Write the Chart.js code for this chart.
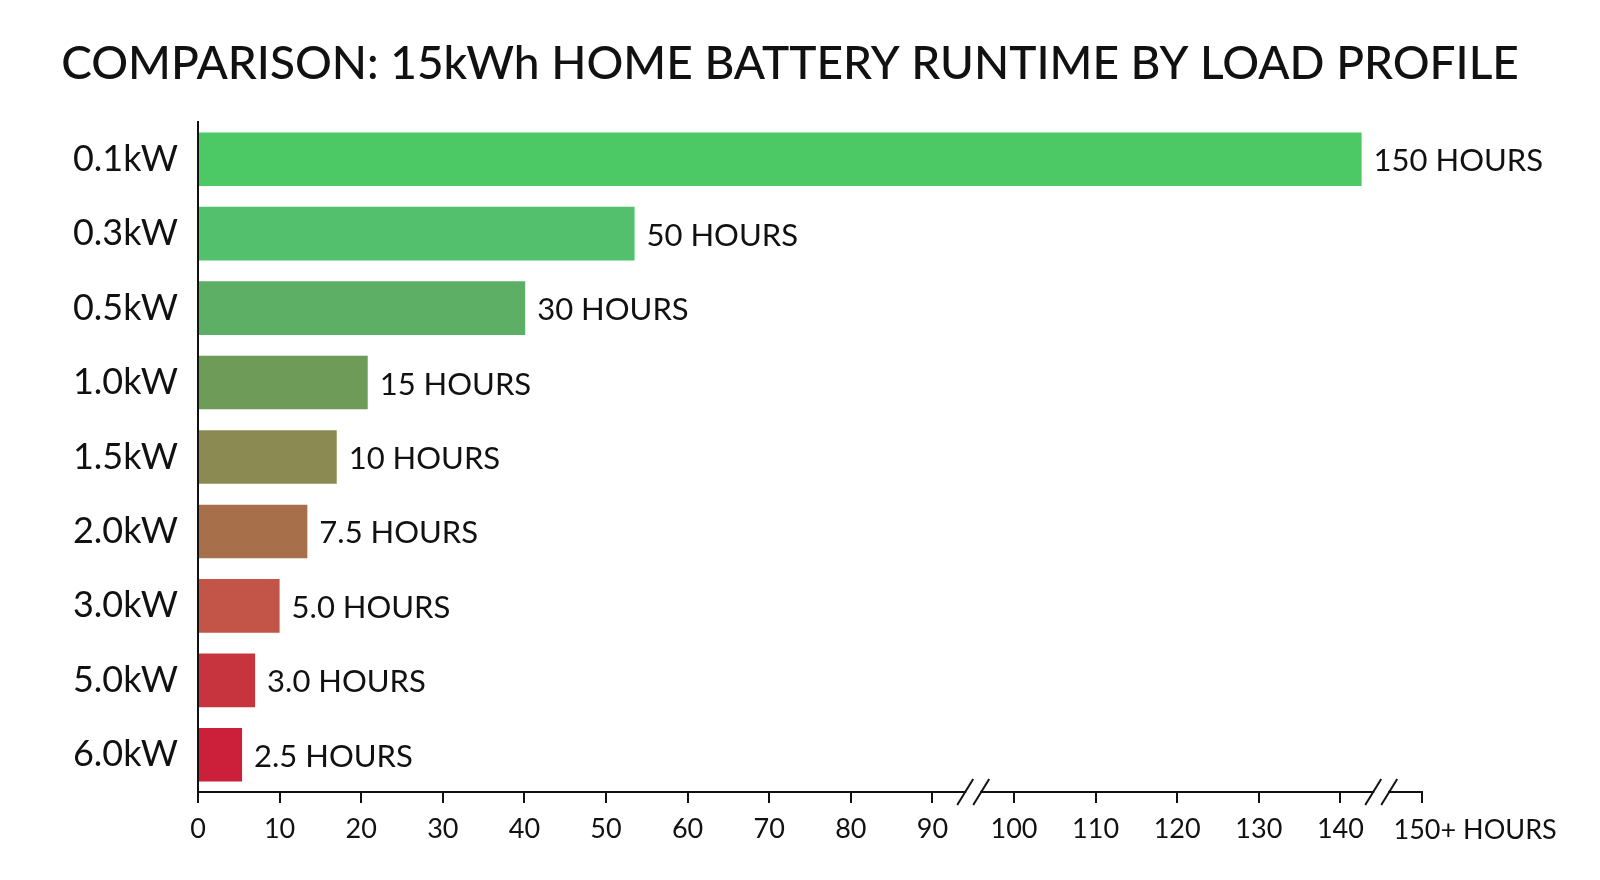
<!DOCTYPE html>
<html>
<head>
<meta charset="utf-8">
<title>15kWh Home Battery Runtime</title>
<script src="https://cdn.jsdelivr.net/npm/chart.js@4"></script>
<style>
    html, body { margin: 0; padding: 0; background: #ffffff; }
    #wrap { width: 1600px; height: 880px; }
</style>
</head>
<body>
<div id="wrap"><canvas id="runtimeChart" width="1600" height="880"></canvas></div>
<script>
// Load profiles (y axis categories)
const loadProfiles = ["0.1kW", "0.3kW", "0.5kW", "1.0kW", "1.5kW", "2.0kW", "3.0kW", "5.0kW", "6.0kW"];

// Runtime printed next to each bar
const runtimeHours = [150, 50, 30, 15, 10, 7.5, 5.0, 3.0, 2.5];

// Bar length as drawn against the (broken) axis
const barLengths = [142.6, 53.5, 40.1, 20.8, 17.0, 13.4, 10.0, 7.0, 5.4];

// Axis ticks + label of last tick
const axisTicks = [0, 10, 20, 30, 40, 50, 60, 70, 80, 90, 100, 110, 120, 130, 140, 150];
const lastTickLabel = "150+ HOURS";
const axisBreaks = [95, 145];

const chartTitle = "COMPARISON: 15kWh HOME BATTERY RUNTIME BY LOAD PROFILE";

// bar colours, left end -> right end
const colorStart = ["#4cc864", "#52c06c", "#5caf64", "#6e9b58", "#8a8a52", "#a8704a", "#c25548", "#c8343e", "#cc1f3a"];
const colorEnd   = ["#3abf80", "#4ebb74", "#62ad6a", "#70985a", "#888650", "#a56a48", "#c05046", "#c8323e", "#c81e38"];

const FONT = "Lato, 'Open Sans', sans-serif";

function hoursText(v) {
    return (v < 10 ? v.toFixed(1) : String(v)) + " HOURS";
}

// gradient per bar
function barColor(ctx) {
    const i = ctx.dataIndex;
    const chart = ctx.chart;
    const el = chart.getDatasetMeta(0).data[i];
    if (!el || !chart.chartArea) return colorStart[i];
    const left = Math.min(el.base, el.x);
    const right = Math.max(el.base, el.x);
    if (!isFinite(left) || !isFinite(right) || right - left < 1) return colorStart[i];
    const g = chart.ctx.createLinearGradient(left, 0, right, 0);
    g.addColorStop(0, colorStart[i]);
    g.addColorStop(1, colorEnd[i]);
    return g;
}

// title, centred on the page (not on the chart area)
const pageTitle = {
    id: "pageTitle",
    afterDraw(chart) {
        const ctx = chart.ctx;
        ctx.save();
        ctx.font = "500 46px " + FONT;
        ctx.fillStyle = "#111111";
        ctx.textAlign = "center";
        ctx.textBaseline = "middle";
        ctx.fillText(chartTitle, 790, 64);
        ctx.restore();
    }
};

// value text at the end of every bar
const valueLabels = {
    id: "valueLabels",
    afterDatasetsDraw(chart) {
        const ctx = chart.ctx;
        const meta = chart.getDatasetMeta(0);
        ctx.save();
        ctx.font = "31px " + FONT;
        ctx.fillStyle = "#111111";
        ctx.textAlign = "left";
        ctx.textBaseline = "middle";
        meta.data.forEach((bar, i) => {
            ctx.fillText(hoursText(runtimeHours[i]), bar.x + 12, bar.y + 2);
        });
        ctx.restore();
    }
};

// "150+ HOURS" label and the // break marks on the x axis
const axisExtras = {
    id: "axisExtras",
    afterDraw(chart) {
        const ctx = chart.ctx;
        const x = chart.scales.x;
        const y0 = chart.chartArea.bottom;
        ctx.save();

        ctx.font = "27px " + FONT;
        ctx.fillStyle = "#111111";
        ctx.textBaseline = "middle";
        ctx.textAlign = "left";
        const px = x.getPixelForValue(axisTicks[axisTicks.length - 1]);
        const w = ctx.measureText("150").width;
        ctx.fillText(lastTickLabel, px - w / 2 - 5, 830);

        axisBreaks.forEach(v => {
            const bx = x.getPixelForValue(v);
            ctx.fillStyle = "#ffffff";
            ctx.fillRect(bx - 7, y0 - 3, 14, 6);
            ctx.strokeStyle = "#111111";
            ctx.lineWidth = 2;
            [-8, 8].forEach(off => {
                ctx.beginPath();
                ctx.moveTo(bx + off - 8, y0 + 13);
                ctx.lineTo(bx + off + 8, y0 - 13);
                ctx.stroke();
            });
        });
        ctx.restore();
    }
};

document.addEventListener("DOMContentLoaded", function () {
    new Chart(document.getElementById("runtimeChart"), {
        type: "bar",
        data: {
            labels: loadProfiles,
            datasets: [{
                label: "Runtime",
                data: barLengths,
                backgroundColor: barColor,
                borderWidth: 0,
                barPercentage: 0.8,
                categoryPercentage: 0.9
            }]
        },
        options: {
            indexAxis: "y",
            responsive: false,
            animation: false,
            layout: { padding: { left: 0, right: 178, top: 122, bottom: 0 } },
            plugins: {
                legend: { display: false },
                tooltip: { enabled: false },
                title: { display: false }
            },
            scales: {
                x: {
                    type: "linear",
                    min: 0,
                    max: 150,
                    afterBuildTicks(scale) {
                        scale.ticks = axisTicks.map(v => ({ value: v }));
                    },
                    afterFit(scale) { scale.height = 88; },
                    border: { display: true, color: "#111111", width: 2 },
                    grid: {
                        display: true,
                        drawOnChartArea: false,
                        drawTicks: true,
                        tickLength: 11,
                        color: "#111111",
                        lineWidth: 2
                    },
                    ticks: {
                        color: "#111111",
                        font: { family: FONT, size: 27 },
                        padding: 10,
                        maxRotation: 0,
                        autoSkip: false,
                        callback: v => (v === 150 ? "" : v)
                    }
                },
                y: {
                    afterFit(scale) { scale.width = 198; },
                    border: { display: true, color: "#111111", width: 2 },
                    grid: { display: false, drawTicks: false },
                    ticks: {
                        color: "#111111",
                        font: { family: FONT, size: 36 },
                        padding: 20
                    }
                }
            }
        },
        plugins: [pageTitle, valueLabels, axisExtras]
    });
});
</script>
</body>
</html>
